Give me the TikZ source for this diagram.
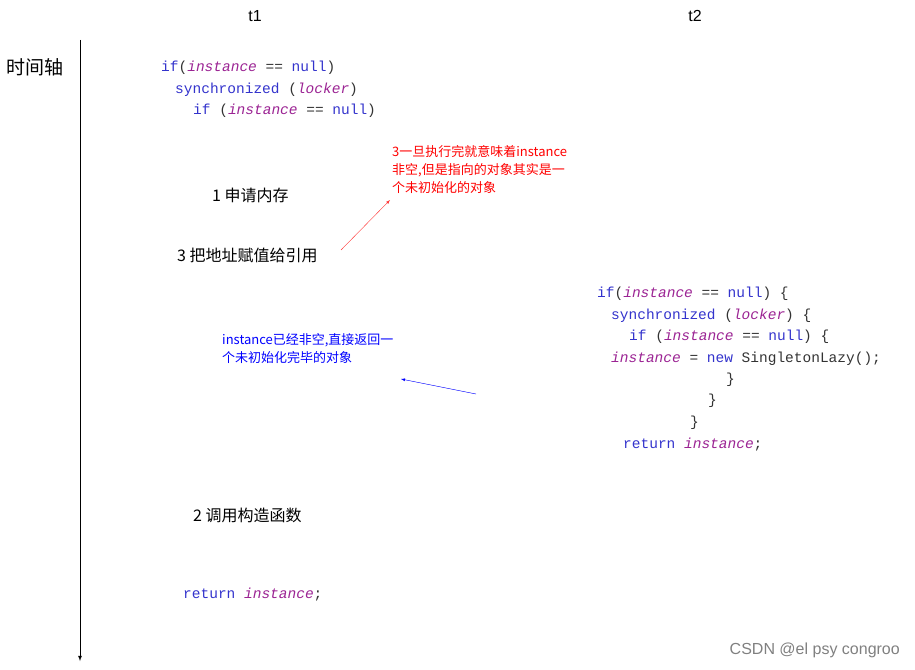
\documentclass[tikz,border=0pt]{standalone}
\usepackage{fontspec}
\setmainfont{Liberation Sans}
\newfontfamily\cjk{Noto Sans CJK SC}
\newfontfamily\codef{Liberation Mono}
\definecolor{kw}{HTML}{3333CC}
\definecolor{iv}{HTML}{9B2393}
\definecolor{cd}{HTML}{333333}
\newcommand{\K}[1]{\textcolor{kw}{#1}}
\newcommand{\I}[1]{\textcolor{iv}{\itshape #1}}
\begin{document}
\begin{tikzpicture}[x=1pt,y=-1pt,
  code/.style={anchor=west,inner sep=0,font=\codef\fontsize{14.5}{16}\selectfont,text=cd},
  zh/.style={anchor=west,inner sep=0,font=\cjk\fontsize{16}{18}\selectfont},
  note/.style={anchor=north west,inner sep=0,font=\cjk\fontsize{13}{18}\selectfont,align=left}]
\useasboundingbox (0,0) rectangle (915,669);
\node[inner sep=0,font=\fontsize{16}{18}\selectfont] (t1) at (255,16) {t1};
\node[inner sep=0,font=\fontsize{16}{18}\selectfont] (t2) at (695,16) {t2};
\node[inner sep=0,font=\cjk\fontsize{19}{22}\selectfont] (ax) at (35,67) {时间轴};
\coordinate (a0) at (80,40); \coordinate (a1) at (80,661);
\draw[-latex,line width=0.8pt] (a0) -- (a1);
% block 1
\node[code] (c1) at (161,68) {\K{if}(\I{instance} == \K{null})};
\node[code] (c2) at (175,90) {\K{synchronized} (\I{locker})};
\node[code] (c3) at (193,111) {\K{if} (\I{instance} == \K{null})};
\node[zh] (s1) at (212,195) {1 申请内存};
\node[zh] (s3) at (177,255) {3 把地址赋值给引用};
\node[note,text=red] (rn) at (392,145) {3一旦执行完就意味着instance\\非空,但是指向的对象其实是一\\个未初始化的对象};
\coordinate (r0) at (341,250); \coordinate (r1) at (390,200);
\draw[-latex,red!80] (r0) -- (r1);
% block 2
\node[code] (d1) at (597,294) {\K{if}(\I{instance} == \K{null}) \{};
\node[code] (d2) at (611,316) {\K{synchronized} (\I{locker}) \{};
\node[code] (d3) at (629,337) {\K{if} (\I{instance} == \K{null}) \{};
\node[code] (d4) at (611,359) {\I{instance} = \K{new} SingletonLazy();};
\node[code] (d5) at (726,380) {\}};
\node[code] (d6) at (708,401) {\}};
\node[code] (d7) at (690,423) {\}};
\node[code] (d8) at (623,445) {\K{return} \I{instance};};
\node[note,text=blue] (bn) at (222,333) {instance已经非空,直接返回一\\个未初始化完毕的对象};
\coordinate (b0) at (476,394); \coordinate (b1) at (401,379);
\draw[-latex,blue] (b0) -- (b1);
\node[zh] (s2) at (193,515) {2 调用构造函数};
\node[code] (ret) at (183,595) {\K{return} \I{instance};};
\node[anchor=east,inner sep=0,text=gray,font=\fontsize{16}{18}\selectfont] (wm) at (900,650) {CSDN @el psy congroo};
\end{tikzpicture}
\end{document}
